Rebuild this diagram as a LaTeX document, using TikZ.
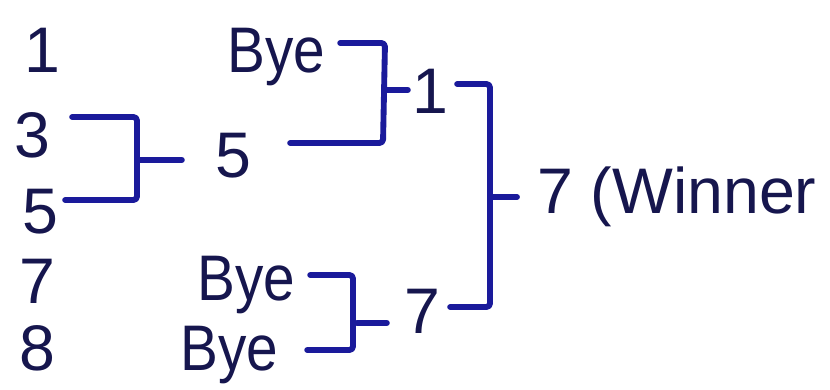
\documentclass[tikz,border=0pt]{standalone}
\usepackage{fontspec}
\setmainfont{Liberation Sans}
\newfontfamily\byefont[FakeStretch=0.88]{Liberation Sans}
\usepackage{xcolor}
\usepackage{tikz}
\usetikzlibrary{positioning, calc}
\definecolor{InkNavy}{RGB}{22, 22, 78}
\definecolor{InkBlue}{RGB}{26, 26, 155}
\tikzset{
    seed/.style={font=\fontsize{55}{60}\selectfont, text=InkNavy, inner sep=0pt, anchor=base},
    byelabel/.style={seed, font=\fontsize{55}{60}\selectfont\byefont, anchor=base west},
    bracket/.style={draw=InkBlue, line width=5pt, line cap=round, line join=round, rounded corners=3pt},
}

\begin{document}
\begin{tikzpicture}[x=0.3mm, y=-0.3mm]
    \useasboundingbox[fill=white] (0,0) rectangle (830,389);

    % first column
    \node[seed] (s1) at (42,72) {1};
    \node[seed] (s3) at (32,157) {3};
    \node[seed] (s5) at (40,233) {5};
    \node[seed] (s7) at (37,303) {7};
    \node[seed] (s8) at (37,370) {8};

    % second column
    \node[byelabel] (byeA) at (227,72) {Bye};
    \node[seed] (r5) at (233,177) {5};
    \node[byelabel] (byeB) at (197,300) {Bye};
    \node[byelabel] (byeC) at (180,370) {Bye};

    % third column
    \node[seed] (q1) at (430,113) {1};
    \node[seed] (q7) at (422,333) {7};
    \node[seed, anchor=base west] (win) at (537,213) {7 (Winner};

    \coordinate (b1t) at (137,117);
    \coordinate (b1b) at (137,200);
    \coordinate (b1m) at (137,160);
    \draw[bracket] ($(s3.east |- b1t)+(22,0)$) -- (b1t) -- (b1b) -- ($(s5.east |- b1b)+(7,0)$);
    \draw[bracket] (b1m) -- ($(r5.west |- b1m)+(-33,0)$);

    \coordinate (b2t) at (385,43);
    \coordinate (b2b) at (383,143);
    \coordinate (b2m) at (385,90);
    \draw[bracket] ($(byeA.east |- b2t)+(15,0)$) -- (b2t) -- (b2b) -- ($(r5.east |- b2b)+(39,0)$);
    \draw[bracket] (b2m) -- ($(q1.west |- b2m)+(-4,0)$);

    \coordinate (b3t) at (353,275);
    \coordinate (b3b) at (353,350);
    \coordinate (b3m) at (357,323);
    \draw[bracket] ($(byeB.east |- b3t)+(15,0)$) -- (b3t) -- (b3b) -- ($(byeC.east |- b3b)+(29,0)$);
    \draw[bracket] (b3m) -- ($(q7.west |- b3m)+(-17,0)$);

    \coordinate (b4t) at (490,84);
    \coordinate (b4b) at (490,307);
    \coordinate (b4m) at (492,197);
    \draw[bracket] ($(q1.east |- b4t)+(9,0)$) -- (b4t) -- (b4b) -- ($(q7.east |- b4b)+(10,0)$);
    \draw[bracket] (b4m) -- ($(win.west |- b4m)+(-20,0)$);
\end{tikzpicture}
\end{document}
